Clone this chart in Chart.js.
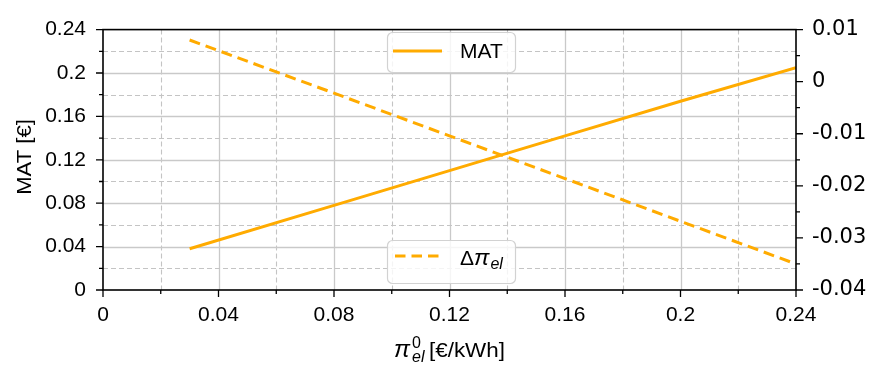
<!DOCTYPE html>
<html><head><meta charset="utf-8">
<script src="https://cdn.jsdelivr.net/npm/chart.js@4.4.0/dist/chart.umd.min.js"></script>
<style>html,body{margin:0;padding:0;background:#fff}</style>
</head><body>
<canvas id="c" width="875" height="366"></canvas>
<script>
// ---- data ----
const priceX = [0.03, 0.08, 0.12, 0.16, 0.20, 0.24];           // pi_el^0 [€/kWh]
const matValues = [0.038, 0.078, 0.110, 0.142, 0.174, 0.205];     // MAT [€] (left axis)
const deltaPiValues = [0.008, -0.0022, -0.0104, -0.0186, -0.0268, -0.035]; // Δπ_el (right axis)
const xTickLabels = ['0', '0.04', '0.08', '0.12', '0.16', '0.2', '0.24'];
const leftTickLabels = ['0', '0.04', '0.08', '0.12', '0.16', '0.2', '0.24'];
const rightTickLabels = ['-0.04', '-0.03', '-0.02', '-0.01', '0', '0.01'];

const ORANGE = '#ffab00';
const SANS = '"Liberation Sans", Arial, sans-serif';
const DEJA = '"DejaVu Sans", sans-serif';

function fmt(v, labels) {
  const s = String(+v.toFixed(3));
  return labels.includes(s) ? s : '';
}

const deco = {
  id: 'deco',
  beforeDatasetsDraw(chart) {
    const {ctx, chartArea: a, scales} = chart;
    ctx.save();
    for (let i = 1; i < 12; i++) {
      const px = Math.round(scales.x.getPixelForValue(i * 0.02)) + 0.5;
      const major = i % 2 === 0;
      ctx.beginPath();
      ctx.strokeStyle = major ? '#c9c9c9' : '#c4c4c4';
      ctx.lineWidth = major ? 1.3 : 1.1;
      ctx.setLineDash(major ? [] : [5, 3]);
      ctx.moveTo(px, a.top); ctx.lineTo(px, a.bottom); ctx.stroke();
    }
    for (let i = 1; i < 12; i++) {
      const py = Math.round(scales.y.getPixelForValue(i * 0.02)) + 0.5;
      const major = i % 2 === 0;
      ctx.beginPath();
      ctx.strokeStyle = major ? '#c9c9c9' : '#c4c4c4';
      ctx.lineWidth = major ? 1.3 : 1.1;
      ctx.setLineDash(major ? [] : [5, 3]);
      ctx.moveTo(a.left, py); ctx.lineTo(a.right, py); ctx.stroke();
    }
    ctx.restore();
  },
  afterDatasetsDraw(chart) {
    const {ctx, chartArea: a, scales} = chart;
    ctx.save();
    ctx.setLineDash([]);
    ctx.strokeStyle = '#000'; ctx.lineWidth = 1.6;
    ctx.strokeRect(a.left, a.top, a.right - a.left, a.bottom - a.top);
    ctx.lineWidth = 1.3;
    ctx.beginPath();
    for (let i = 0; i <= 12; i++) {
      const len = i % 2 === 0 ? 7 : 4;
      const px = scales.x.getPixelForValue(i * 0.02);
      ctx.moveTo(px, a.bottom); ctx.lineTo(px, a.bottom + len);
      const py = scales.y.getPixelForValue(i * 0.02);
      ctx.moveTo(a.left, py); ctx.lineTo(a.left - len, py);
    }
    for (let i = 0; i <= 10; i++) {
      const len = i % 2 === 0 ? 7 : 4;
      const py = scales.y2.getPixelForValue(-0.04 + i * 0.005);
      ctx.moveTo(a.right, py); ctx.lineTo(a.right + len, py);
    }
    ctx.stroke();

    function box(x, y, w, h) {
      ctx.beginPath();
      ctx.roundRect(x, y, w, h, 5);
      ctx.fillStyle = 'rgba(255,255,255,0.82)';
      ctx.fill();
      ctx.strokeStyle = '#d2d2d2'; ctx.lineWidth = 1.2;
      ctx.stroke();
    }
    box(387.5, 32.5, 128, 40);
    ctx.strokeStyle = ORANGE; ctx.lineWidth = 3;
    ctx.beginPath(); ctx.moveTo(393, 51); ctx.lineTo(442, 51); ctx.stroke();
    ctx.fillStyle = '#000'; ctx.font = '21px ' + SANS; ctx.textBaseline = 'alphabetic';
    ctx.fillText('MAT', 460, 58);

    box(387.5, 240.5, 128, 43);
    ctx.strokeStyle = ORANGE; ctx.lineWidth = 3; ctx.setLineDash([10.5, 6]);
    ctx.beginPath(); ctx.moveTo(395, 256); ctx.lineTo(442, 256); ctx.stroke();
    ctx.setLineDash([]);
    ctx.fillStyle = '#000';
    let x = 460;
    ctx.font = '21px ' + SANS; ctx.fillText('Δ', x, 265); x += ctx.measureText('Δ').width;
    ctx.font = 'italic 23px ' + SANS; ctx.fillText('π', x, 265); x += ctx.measureText('π').width;
    ctx.font = 'italic 16px ' + SANS; ctx.fillText('el', x + 1, 269);

    // x title
    ctx.font = 'italic 24px ' + SANS; ctx.fillText('π', 394, 357);
    ctx.font = '16px ' + SANS; ctx.fillText('0', 412, 348);
    ctx.font = 'italic 16px ' + SANS; ctx.fillText('el', 412, 362);
    ctx.save();
    ctx.translate(429, 357); ctx.scale(1.12, 1);
    ctx.font = '20px ' + SANS; ctx.fillText('[€/kWh]', 0, 0);
    ctx.restore();

    // y title
    ctx.save();
    ctx.translate(31, 157); ctx.rotate(-Math.PI / 2); ctx.scale(1.05, 1);
    ctx.textAlign = 'center'; ctx.font = '21px ' + SANS;
    ctx.fillText('MAT [€]', 0, 0);
    ctx.restore();
    ctx.restore();
  }
};

new Chart(document.getElementById('c'), {
  type: 'line',
  data: {
    datasets: [
      {label: 'MAT', data: priceX.map((x, i) => ({x, y: matValues[i]})), yAxisID: 'y',
       borderColor: ORANGE, borderWidth: 3, pointRadius: 0, tension: 0},
      {label: 'Δπel', data: priceX.map((x, i) => ({x, y: deltaPiValues[i]})), yAxisID: 'y2',
       borderColor: ORANGE, borderWidth: 3, borderDash: [11, 6], pointRadius: 0, tension: 0}
    ]
  },
  options: {
    responsive: false, animation: false,
    layout: {padding: {top: 20, left: 0, right: 0, bottom: 0}},
    plugins: {legend: {display: false}, tooltip: {enabled: false}},
    scales: {
      x: {type: 'linear', min: 0, max: 0.24,
          grid: {display: false, drawTicks: false}, border: {display: false},
          ticks: {stepSize: 0.02, autoSkip: false, maxRotation: 0, padding: 13, color: '#000',
                  font: {family: SANS, size: 21}, callback: v => fmt(v, xTickLabels)},
          afterFit: s => { s.height = 76; }},
      y: {type: 'linear', position: 'left', min: 0, max: 0.24,
          grid: {display: false, drawTicks: false}, border: {display: false},
          ticks: {stepSize: 0.02, autoSkip: false, padding: 17, color: '#000',
                  font: {family: SANS, size: 21}, callback: v => fmt(v, leftTickLabels)},
          afterFit: s => { s.width = 103; }},
      y2: {type: 'linear', position: 'right', min: -0.04, max: 0.01,
          grid: {display: false, drawTicks: false}, border: {display: false},
          ticks: {stepSize: 0.005, autoSkip: false, padding: 16, color: '#000',
                  font: {family: DEJA, size: 21}, callback: v => fmt(v, rightTickLabels)},
          afterFit: s => { s.width = 79; }}
    }
  },
  plugins: [deco]
});
</script>
</body></html>
